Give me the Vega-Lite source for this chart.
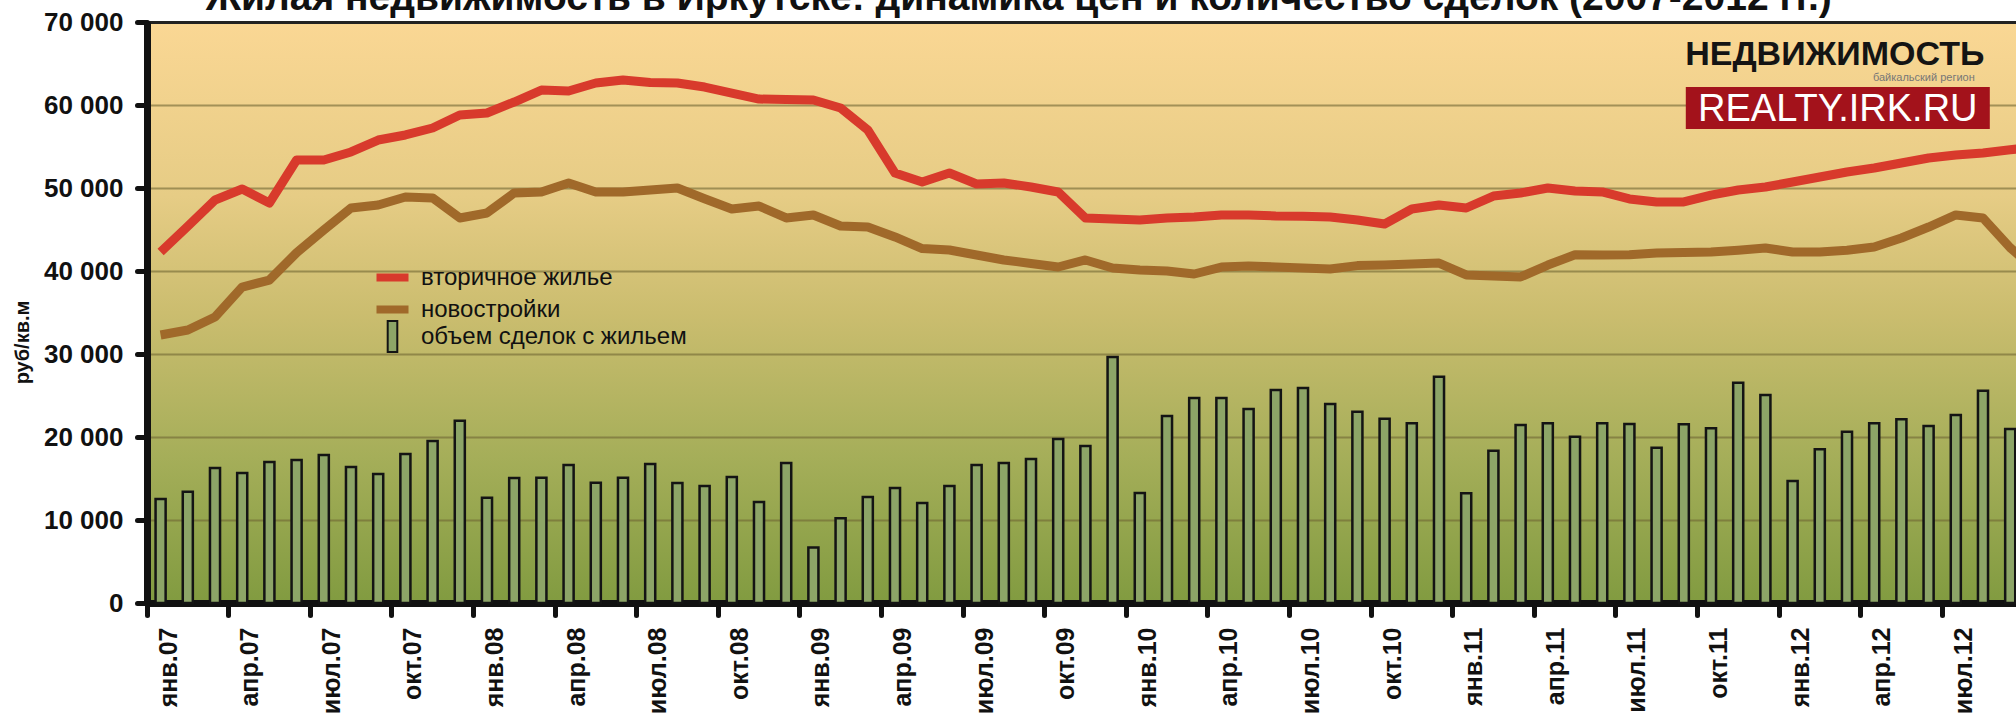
{
  "$schema": "https://vega.github.io/schema/vega-lite/v6.json",
  "autosize": "none",
  "width": 1869,
  "height": 581,
  "padding": {"left": 147, "top": 22, "right": 0, "bottom": 119},
  "background": "white",
  "view": {
    "stroke": null,
    "fill": {"gradient": "linear", "x1": 0, "y1": 0, "x2": 0, "y2": 1,
      "stops": [
        {"offset": 0, "color": "#fad794"},
        {"offset": 0.3, "color": "#e6cc85"},
        {"offset": 0.5, "color": "#cbbd6f"},
        {"offset": 0.75, "color": "#a5ae59"},
        {"offset": 1, "color": "#819b40"}
      ]}
  },
  "resolve": {"axis": {"y": "independent"}},
  "data": {"values": [
    {"m": "янв.07", "объем сделок с жильем": 12530, "вторичное жилье": 42300, "новостройки": 32290},
    {"m": "фев.07", "объем сделок с жильем": 13410, "вторичное жилье": 45400, "новостройки": 32890},
    {"m": "мар.07", "объем сделок с жильем": 16260, "вторичное жилье": 48550, "новостройки": 34460},
    {"m": "апр.07", "объем сделок с жильем": 15660, "вторичное жилье": 49880, "новостройки": 38070},
    {"m": "май.07", "объем сделок с жильем": 16990, "вторичное жилье": 48190, "новостройки": 38910},
    {"m": "июн.07", "объем сделок с жильем": 17230, "вторичное жилье": 53370, "новостройки": 42200},
    {"m": "июл.07", "объем сделок с жильем": 17830, "вторичное жилье": 53370, "новостройки": 44940},
    {"m": "авг.07", "объем сделок с жильем": 16390, "вторичное жилье": 54340, "новостройки": 47590},
    {"m": "сен.07", "объем сделок с жильем": 15540, "вторичное жилье": 55780, "новостройки": 47950},
    {"m": "окт.07", "объем сделок с жильем": 17950, "вторичное жилье": 56390, "новостройки": 48920},
    {"m": "ноя.07", "объем сделок с жильем": 19520, "вторичное жилье": 57230, "новостройки": 48800},
    {"m": "дек.07", "объем сделок с жильем": 21970, "вторичное жилье": 58800, "новостройки": 46390},
    {"m": "янв.08", "объем сделок с жильем": 12690, "вторичное жилье": 59040, "новостройки": 46990},
    {"m": "фев.08", "объем сделок с жильем": 15060, "вторичное жилье": 60360, "новостройки": 49400},
    {"m": "мар.08", "объем сделок с жильем": 15100, "вторичное жилье": 61800, "новостройки": 49520},
    {"m": "апр.08", "объем сделок с жильем": 16630, "вторичное жилье": 61690, "новостройки": 50600},
    {"m": "май.08", "объем сделок с жильем": 14500, "вторичное жилье": 62650, "новостройки": 49520},
    {"m": "июн.08", "объем сделок с жильем": 15100, "вторичное жилье": 63010, "новостройки": 49520},
    {"m": "июл.08", "объем сделок с жильем": 16750, "вторичное жилье": 62700, "новостройки": 49760},
    {"m": "авг.08", "объем сделок с жильем": 14450, "вторичное жилье": 62650, "новостройки": 50000},
    {"m": "сен.08", "объем сделок с жильем": 14100, "вторичное жилье": 62160, "новостройки": 48700},
    {"m": "окт.08", "объем сделок с жильем": 15180, "вторичное жилье": 61440, "новостройки": 47470},
    {"m": "ноя.08", "объем сделок с жильем": 12170, "вторичное жилье": 60720, "новостройки": 47830},
    {"m": "дек.08", "объем сделок с жильем": 16870, "вторичное жилье": 60650, "новостройки": 46390},
    {"m": "янв.09", "объем сделок с жильем": 6700, "вторичное жилье": 60600, "новостройки": 46750},
    {"m": "фев.09", "объем сделок с жильем": 10200, "вторичное жилье": 59640, "новостройки": 45420},
    {"m": "мар.09", "объем сделок с жильем": 12770, "вторичное жилье": 56990, "новостройки": 45300},
    {"m": "апр.09", "объем сделок с жильем": 13850, "вторичное жилье": 51800, "новостройки": 44100},
    {"m": "май.09", "объем сделок с жильем": 12050, "вторичное жилье": 50720, "новостройки": 42700},
    {"m": "июн.09", "объем сделок с жильем": 14100, "вторичное жилье": 51810, "новостройки": 42530},
    {"m": "июл.09", "объем сделок с жильем": 16630, "вторичное жилье": 50480, "новостройки": 41930},
    {"m": "авг.09", "объем сделок с жильем": 16870, "вторичное жилье": 50600, "новостройки": 41330},
    {"m": "сен.09", "объем сделок с жильем": 17350, "вторичное жилье": 50120, "новостройки": 40900},
    {"m": "окт.09", "объем сделок с жильем": 19760, "вторичное жилье": 49520, "новостройки": 40480},
    {"m": "ноя.09", "объем сделок с жильем": 18920, "вторичное жилье": 46390, "новостройки": 41330},
    {"m": "дек.09", "объем сделок с жильем": 29640, "вторичное жилье": 46270, "новостройки": 40360},
    {"m": "янв.10", "объем сделок с жильем": 13250, "вторичное жилье": 46140, "новостройки": 40120},
    {"m": "фев.10", "объем сделок с жильем": 22530, "вторичное жилье": 46390, "новостройки": 40000},
    {"m": "мар.10", "объем сделок с жильем": 24700, "вторичное жилье": 46500, "новостройки": 39640},
    {"m": "апр.10", "объем сделок с жильем": 24700, "вторичное жилье": 46750, "новостройки": 40480},
    {"m": "май.10", "объем сделок с жильем": 23370, "вторичное жилье": 46750, "новостройки": 40600},
    {"m": "июн.10", "объем сделок с жильем": 25660, "вторичное жилье": 46630, "новостройки": 40480},
    {"m": "июл.10", "объем сделок с жильем": 25900, "вторичное жилье": 46600, "новостройки": 40360},
    {"m": "авг.10", "объем сделок с жильем": 23980, "вторичное жилье": 46500, "новостройки": 40240},
    {"m": "сен.10", "объем сделок с жильем": 23050, "вторичное жилье": 46140, "новостройки": 40650},
    {"m": "окт.10", "объем сделок с жильем": 22210, "вторичное жилье": 45660, "новостройки": 40720},
    {"m": "ноя.10", "объем сделок с жильем": 21650, "вторичное жилье": 47470, "новостройки": 40850},
    {"m": "дек.10", "объем сделок с жильем": 27270, "вторичное жилье": 47950, "новостройки": 40960},
    {"m": "янв.11", "объем сделок с жильем": 13220, "вторичное жилье": 47590, "новостройки": 39520},
    {"m": "фев.11", "объем сделок с жильем": 18350, "вторичное жилье": 49030, "новостройки": 39400},
    {"m": "мар.11", "объем сделок с жильем": 21450, "вторичное жилье": 49400, "новостройки": 39280},
    {"m": "апр.11", "объем сделок с жильем": 21650, "вторичное жилье": 50000, "новостройки": 40720},
    {"m": "май.11", "объем сделок с жильем": 20040, "вторичное жилье": 49640, "новостройки": 41950},
    {"m": "июн.11", "объем сделок с жильем": 21650, "вторичное жилье": 49520, "новостройки": 41930},
    {"m": "июл.11", "объем сделок с жильем": 21570, "вторичное жилье": 48680, "новостройки": 41950},
    {"m": "авг.11", "объем сделок с жильем": 18710, "вторичное жилье": 48320, "новостройки": 42170},
    {"m": "сен.11", "объем сделок с жильем": 21530, "вторичное жилье": 48320, "новостройки": 42230},
    {"m": "окт.11", "объем сделок с жильем": 21050, "вторичное жилье": 49150, "новостройки": 42290},
    {"m": "ноя.11", "объем сделок с жильем": 26550, "вторичное жилье": 49760, "новостройки": 42500},
    {"m": "дек.11", "объем сделок с жильем": 25060, "вторичное жилье": 50120, "новостройки": 42770},
    {"m": "янв.12", "объем сделок с жильем": 14700, "вторичное жилье": 50720, "новостройки": 42290},
    {"m": "фев.12", "объем сделок с жильем": 18520, "вторичное жилье": 51330, "новостройки": 42290},
    {"m": "мар.12", "объем сделок с жильем": 20640, "вторичное жилье": 51930, "новостройки": 42500},
    {"m": "апр.12", "объем сделок с жильем": 21650, "вторичное жилье": 52410, "новостройки": 42890},
    {"m": "май.12", "объем сделок с жильем": 22130, "вторичное жилье": 53010, "новостройки": 43980},
    {"m": "июн.12", "объем сделок с жильем": 21330, "вторичное жилье": 53610, "новостройки": 45300},
    {"m": "июл.12", "объем сделок с жильем": 22650, "вторичное жилье": 53970, "новостройки": 46750},
    {"m": "авг.12", "объем сделок с жильем": 25580, "вторичное жилье": 54220, "новостройки": 46390},
    {"m": "сен.12", "объем сделок с жильем": 20960, "вторичное жилье": 54600, "новостройки": 42800},
    {"m": "окт.12", "вторичное жилье": 55000, "новостройки": 40000}
  ]},
  "layer": [
    {
      "mark": {"type": "bar", "width": {"band": 0.37}, "stroke": "#141414", "strokeWidth": 2.5},
      "encoding": {
        "x": {
          "field": "m", "type": "ordinal",
          "scale": {
            "domain": ["янв.07","фев.07","мар.07","апр.07","май.07","июн.07","июл.07","авг.07","сен.07","окт.07","ноя.07","дек.07",
                       "янв.08","фев.08","мар.08","апр.08","май.08","июн.08","июл.08","авг.08","сен.08","окт.08","ноя.08","дек.08",
                       "янв.09","фев.09","мар.09","апр.09","май.09","июн.09","июл.09","авг.09","сен.09","окт.09","ноя.09","дек.09",
                       "янв.10","фев.10","мар.10","апр.10","май.10","июн.10","июл.10","авг.10","сен.10","окт.10","ноя.10","дек.10",
                       "янв.11","фев.11","мар.11","апр.11","май.11","июн.11","июл.11","авг.11","сен.11","окт.11","ноя.11","дек.11",
                       "янв.12","фев.12","мар.12","апр.12","май.12","июн.12","июл.12","авг.12","сен.12","окт.12"],
            "range": [0, 1904], "paddingInner": 0, "paddingOuter": 0
          },
          "axis": {
            "orient": "bottom", "title": null,
            "values": ["янв.07","апр.07","июл.07","окт.07","янв.08","апр.08","июл.08","окт.08","янв.09","апр.09","июл.09","окт.09",
                       "янв.10","апр.10","июл.10","окт.10","янв.11","апр.11","июл.11","окт.11","янв.12","апр.12","июл.12","окт.12"],
            "bandPosition": 0, "labelOffset": 8, "labelAngle": -90,
            "labelFont": "Liberation Sans", "labelFontSize": 25, "labelFontWeight": "bold", "labelColor": "#111111",
            "labelPadding": 12, "labelOverlap": false,
            "tickSize": 12, "tickWidth": 5, "tickCap": "round", "tickColor": "#111111",
            "domainColor": "#111111", "domainWidth": 7, "grid": false
          }
        },
        "y": {
          "field": "объем сделок с жильем", "type": "quantitative",
          "scale": {"domain": [0, 70000], "nice": false, "zero": true},
          "axis": {
            "orient": "left",
            "values": [0, 10000, 20000, 30000, 40000, 50000, 60000, 70000],
            "labelExpr": "replace(format(datum.value, ','), ',', ' ')",
            "labelFont": "Liberation Sans", "labelFontSize": 26, "labelFontWeight": "bold", "labelColor": "#111111",
            "labelPadding": 14,
            "tickSize": 10, "tickWidth": 5, "tickCap": "round", "tickColor": "#111111",
            "domainColor": "#111111", "domainWidth": 7,
            "grid": true, "gridColor": "#6f6534", "gridOpacity": 0.6, "gridWidth": 2,
            "title": "руб/кв.м", "titleFont": "Liberation Sans", "titleFontSize": 20, "titleFontWeight": "bold",
            "titleColor": "#111111", "titleAngle": 270, "titleX": -125, "titleY": 320,
            "titleAlign": "center", "titleBaseline": "middle"
          }
        },
        "fill": {
          "datum": "объем сделок с жильем", "type": "nominal",
          "scale": {"domain": ["объем сделок с жильем"], "range": ["#8da567"]},
          "legend": {
            "orient": "none", "legendX": 233.5, "legendY": 302.5, "title": null, "padding": 0,
            "labelFont": "Liberation Sans", "labelFontSize": 24, "labelColor": "#111111", "labelLimit": 0,
            "symbolType": "M-0.6,-1.94H0.6V1.94H-0.6Z", "symbolSize": 256, "symbolStrokeWidth": 2,
            "symbolOffset": 0, "labelOffset": 16.5
          }
        }
      }
    },
    {
      "transform": [{"fold": ["вторичное жилье", "новостройки"], "as": ["series", "price"]}],
      "mark": {"type": "line", "strokeWidth": 9, "strokeJoin": "round"},
      "encoding": {
        "x": {"field": "m", "type": "ordinal",
          "axis": {"orient": "top", "labels": false, "ticks": false, "grid": false, "title": null,
                   "domain": true, "domainColor": "#222222", "domainWidth": 3}},
        "y": {"field": "price", "type": "quantitative", "axis": null},
        "color": {
          "field": "series", "type": "nominal",
          "scale": {"domain": ["вторичное жилье", "новостройки"], "range": ["#d83a2c", "#a0692a"]},
          "legend": {
            "orient": "none", "legendX": 233.5, "legendY": 243.5, "title": null, "padding": 0,
            "labelFont": "Liberation Sans", "labelFontSize": 24, "labelColor": "#111111", "labelLimit": 0,
            "symbolType": "M-2,0H2", "symbolSize": 256, "symbolStrokeWidth": 8,
            "symbolOffset": 0, "labelOffset": 16.5, "rowPadding": 0
          }
        },
        "order": {"value": null}
      }
    },
    {
      "data": {"values": [{}]},
      "mark": {"type": "bar", "width": 304, "xOffset": 18, "color": "#a3121b"},
      "encoding": {
        "x": {"datum": "фев.12", "type": "ordinal", "axis": null},
        "y": {"datum": 62169, "type": "quantitative", "axis": null},
        "y2": {"datum": 57108}
      }
    },
    {
      "data": {"values": [{}]},
      "mark": {"type": "text", "text": "REALTY.IRK.RU", "font": "Liberation Sans", "fontSize": 38, "color": "#ffffff", "align": "center", "baseline": "alphabetic", "dx": 18},
      "encoding": {
        "x": {"datum": "фев.12", "type": "ordinal", "axis": null},
        "y": {"datum": 58100, "type": "quantitative", "axis": null}
      }
    },
    {
      "data": {"values": [{}]},
      "mark": {"type": "text", "text": "НЕДВИЖИМОСТЬ", "font": "Liberation Sans", "fontSize": 34, "fontWeight": "bold", "color": "#141414", "align": "center", "baseline": "alphabetic", "dx": 15},
      "encoding": {
        "x": {"datum": "фев.12", "type": "ordinal", "axis": null},
        "y": {"datum": 64820, "type": "quantitative", "axis": null}
      }
    },
    {
      "data": {"values": [{}]},
      "mark": {"type": "text", "text": "байкальский регион", "font": "Liberation Sans", "fontSize": 11, "color": "#777777", "align": "right", "baseline": "alphabetic", "dx": 155},
      "encoding": {
        "x": {"datum": "фев.12", "type": "ordinal", "axis": null},
        "y": {"datum": 62900, "type": "quantitative", "axis": null}
      }
    },
    {
      "data": {"values": [{}]},
      "mark": {"type": "text", "text": "Жилая недвижимость в Иркутске: динамика цен и количество сделок (2007-2012 гг.)", "font": "Liberation Sans", "fontSize": 39, "fontWeight": "bold", "color": "#111111", "align": "center", "baseline": "alphabetic", "dx": 15},
      "encoding": {
        "x": {"datum": "авг.09", "type": "ordinal", "axis": null},
        "y": {"datum": 71500, "type": "quantitative", "axis": null}
      }
    }
  ]
}
